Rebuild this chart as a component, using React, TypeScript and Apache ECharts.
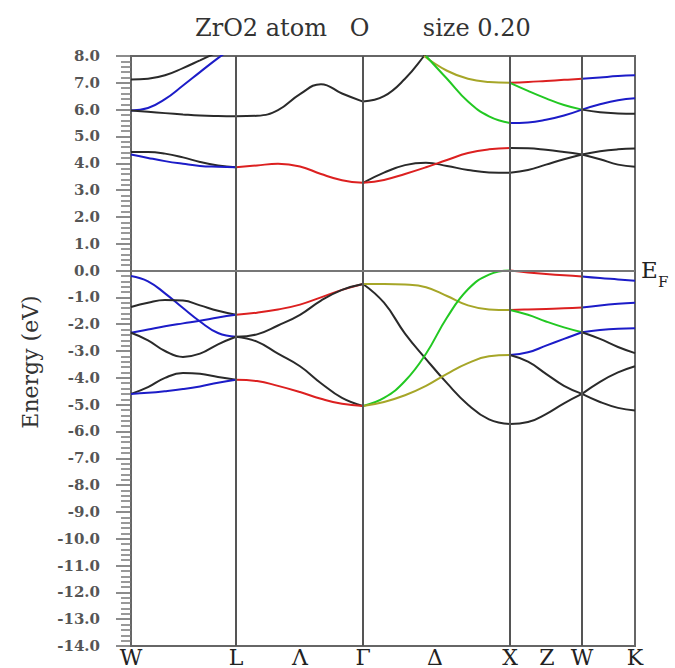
import { useEffect, useRef } from 'react';
import * as echarts from 'echarts';

// k-path coordinates of the high-symmetry points
const kTickPos = [0, 1.05, 1.69, 2.32, 3.04, 3.79, 4.16, 4.51, 5.04];
const kTickNames = ['W', 'L', 'Λ', 'Γ', 'Δ', 'X', 'Z', 'W', 'K'];
const kLines = [1.05, 2.32, 3.79, 4.51];

// k sampling per segment
const kWL = [0, 0.17, 0.34, 0.52, 0.69, 0.87, 1.05];
const kLG = [1.05, 1.26, 1.47, 1.69, 1.9, 2.11, 2.32];
const kGX = [2.32, 2.53, 2.74, 2.95, 3.16, 3.37, 3.58, 3.79];
const kGXtop = [2.32, 2.53, 2.74, 2.93, 3.05];
const kGXol = [2.93, 3.16, 3.37, 3.58, 3.79];
const kGXgr = [2.95, 3.16, 3.37, 3.58, 3.79];
const kXW = [3.79, 3.97, 4.15, 4.33, 4.51];
const kWK = [4.51, 4.69, 4.87, 5.04];

// W - L
const wlA = [7.12, 7.15, 7.28, 7.55, 7.84, 8.15, 8.45];
const wlB = [5.97, 6.06, 6.39, 6.9, 7.4, 7.92, 8.4];
const wlC = [5.97, 5.92, 5.87, 5.82, 5.78, 5.76, 5.75];
const wlD = [4.42, 4.42, 4.36, 4.22, 4.05, 3.92, 3.85];
const wlE = [4.33, 4.2, 4.08, 3.98, 3.9, 3.87, 3.85];
const wlF = [-0.2, -0.4, -0.85, -1.4, -1.9, -2.33, -2.47];
const wlG = [-1.36, -1.2, -1.1, -1.12, -1.3, -1.5, -1.65];
const wlH = [-2.32, -2.2, -2.08, -1.97, -1.87, -1.75, -1.65];
const wlI = [-2.32, -2.6, -3.0, -3.22, -3.1, -2.75, -2.47];
const wlJ = [-4.6, -4.35, -4.0, -3.82, -3.85, -3.97, -4.07];
const wlK = [-4.6, -4.56, -4.5, -4.42, -4.32, -4.18, -4.07];

// L - Gamma
const lgC = [5.75, 5.77, 5.98, 6.58, 6.95, 6.6, 6.3];
const lgR1 = [3.85, 3.92, 3.98, 3.88, 3.6, 3.37, 3.27];
const lgR2 = [-1.65, -1.57, -1.45, -1.27, -1.0, -0.72, -0.5];
const lgK1 = [-2.47, -2.38, -2.05, -1.65, -1.12, -0.72, -0.5];
const lgK2 = [-2.47, -2.65, -3.1, -3.57, -4.2, -4.75, -5.05];
const lgR3 = [-4.07, -4.12, -4.3, -4.53, -4.78, -4.97, -5.05];

// Gamma - X
const gxTop = [6.3, 6.5, 7.15, 8.0, 8.6];
const gxOl1 = [8.0, 7.45, 7.15, 7.03, 7.0];
const gxGr1 = [8.0, 7.15, 6.3, 5.75, 5.5];
const gxR = [3.27, 3.38, 3.6, 3.85, 4.12, 4.38, 4.52, 4.57];
const gxK1 = [3.27, 3.65, 3.93, 4.02, 3.9, 3.75, 3.66, 3.65];
const gxOl2 = [-0.5, -0.5, -0.52, -0.62, -0.95, -1.3, -1.45, -1.47];
const gxK2 = [-0.5, -1.2, -2.35, -3.3, -4.2, -5.0, -5.55, -5.72];
const gxGr2 = [-5.05, -4.75, -4.12, -3.1, -1.75, -0.7, -0.15, 0.0];
const gxOl3 = [-5.05, -4.9, -4.65, -4.3, -3.85, -3.45, -3.2, -3.15];

// X - W
const xwR1 = [7.0, 7.03, 7.07, 7.11, 7.15];
const xwGr1 = [7.0, 6.7, 6.42, 6.17, 6.0];
const xwB1 = [5.5, 5.52, 5.62, 5.78, 6.0];
const xwK1 = [4.57, 4.56, 4.5, 4.42, 4.33];
const xwK2 = [3.65, 3.75, 3.95, 4.15, 4.33];
const xwR2 = [0, -0.07, -0.13, -0.18, -0.22];
const xwR3 = [-1.47, -1.45, -1.43, -1.41, -1.38];
const xwGr2 = [-1.47, -1.65, -1.9, -2.12, -2.3];
const xwB2 = [-3.15, -3.05, -2.8, -2.55, -2.3];
const xwK3 = [-3.15, -3.4, -3.85, -4.3, -4.6];
const xwK4 = [-5.72, -5.65, -5.35, -4.95, -4.6];

// W - K
const wkB1 = [7.15, 7.2, 7.25, 7.28];
const wkB2 = [6.0, 6.2, 6.35, 6.42];
const wkK1 = [6.0, 5.9, 5.86, 5.85];
const wkK2 = [4.33, 4.45, 4.52, 4.55];
const wkK3 = [4.33, 4.15, 3.95, 3.87];
const wkB3 = [-0.22, -0.28, -0.33, -0.38];
const wkB4 = [-1.38, -1.3, -1.24, -1.2];
const wkB5 = [-2.3, -2.22, -2.17, -2.15];
const wkK4 = [-2.3, -2.55, -2.85, -3.08];
const wkK5 = [-4.6, -4.9, -5.12, -5.22];
const wkK6 = [-4.6, -4.15, -3.8, -3.57];

const BK = '#2a2a2a';
const BL = '#1c1cc8';
const RD = '#dc2020';
const GR = '#22c822';
const OL = '#a6a628';

const bands: [number[], number[], string][] = [
  [kWL, wlA, BK], [kWL, wlB, BL], [kWL, wlC, BK], [kWL, wlD, BK], [kWL, wlE, BL],
  [kWL, wlF, BL], [kWL, wlG, BK], [kWL, wlH, BL], [kWL, wlI, BK], [kWL, wlJ, BK], [kWL, wlK, BL],
  [kLG, lgC, BK], [kLG, lgR1, RD], [kLG, lgR2, RD], [kLG, lgK1, BK], [kLG, lgK2, BK], [kLG, lgR3, RD],
  [kGXtop, gxTop, BK], [kGXol, gxOl1, OL], [kGXgr, gxGr1, GR], [kGX, gxK1, BK], [kGX, gxR, RD],
  [kGX, gxK2, BK], [kGX, gxOl2, OL], [kGX, gxGr2, GR], [kGX, gxOl3, OL],
  [kXW, xwR1, RD], [kXW, xwGr1, GR], [kXW, xwB1, BL], [kXW, xwK1, BK], [kXW, xwK2, BK],
  [kXW, xwR2, RD], [kXW, xwR3, RD], [kXW, xwGr2, GR], [kXW, xwB2, BL], [kXW, xwK3, BK], [kXW, xwK4, BK],
  [kWK, wkB1, BL], [kWK, wkB2, BL], [kWK, wkK1, BK], [kWK, wkK2, BK], [kWK, wkK3, BK],
  [kWK, wkB3, BL], [kWK, wkB4, BL], [kWK, wkB5, BL], [kWK, wkK4, BK], [kWK, wkK5, BK], [kWK, wkK6, BK],
];

export default function App() {
  const ref = useRef<HTMLDivElement>(null);
  useEffect(() => {
    if (!ref.current) return;
    const chart = echarts.init(ref.current, undefined, { renderer: 'svg' });
    const bandSeries = bands.map(([k, e, c]) => ({
      type: 'line',
      data: k.map((x, i) => [x, e[i]]),
      smooth: 0.45,
      symbol: 'none',
      clip: true,
      silent: true,
      z: 3,
      lineStyle: { color: c, width: 2 },
    }));
    chart.setOption({
      animation: false,
      backgroundColor: '#ffffff',
      grid: {
        left: 131, top: 56, width: 504, height: 592,
        show: true, borderColor: '#666', borderWidth: 2, backgroundColor: 'transparent',
      },
      xAxis: {
        type: 'value', min: 0, max: 5.04,
        axisLine: { show: true, lineStyle: { color: '#666', width: 2 } },
        axisTick: { show: false },
        splitLine: { show: false },
        axisLabel: {
          customValues: kTickPos,
          formatter: (v: number) => {
            const i = kTickPos.indexOf(v);
            return i >= 0 ? kTickNames[i] : '';
          },
          margin: 0,
          verticalAlign: 'top',
          fontFamily: 'DejaVu Serif',
          fontSize: 22,
          color: '#222',
        },
      },
      yAxis: {
        type: 'value', min: -14, max: 8, interval: 1,
        axisLine: { show: true, lineStyle: { color: '#666', width: 2 } },
        axisTick: { show: true, inside: false, length: 15, lineStyle: { color: '#666', width: 1.5 } },
        minorTick: { show: true, splitNumber: 5, length: 10, lineStyle: { color: '#777', width: 1.5 } },
        splitLine: { show: false },
        axisLabel: {
          formatter: (v: number) => v.toFixed(1),
          margin: 31,
          fontFamily: 'DejaVu Serif',
          fontWeight: 'bold',
          fontSize: 15,
          color: '#555',
        },
      },
      graphic: [
        {
          type: 'text', x: 195, y: 28,
          style: {
            text: 'ZrO2 atom\u00a0\u00a0\u00a0O\u00a0\u00a0\u00a0\u00a0\u00a0\u00a0\u00a0size 0.20',
            textAlign: 'left', textVerticalAlign: 'middle',
            fontFamily: 'DejaVu Serif', fontSize: 24, fill: '#333',
          },
        },
        {
          type: 'text', x: 30, y: 362, rotation: Math.PI / 2,
          style: {
            text: 'Energy (eV)',
            textAlign: 'center', textVerticalAlign: 'middle',
            fontFamily: 'DejaVu Serif', fontSize: 22, fill: '#333',
          },
        },
        {
          type: 'text', x: 641, y: 270,
          style: {
            text: 'E', textAlign: 'left', textVerticalAlign: 'middle',
            fontFamily: 'DejaVu Serif', fontSize: 23, fill: '#222',
          },
        },
        {
          type: 'text', x: 658, y: 282,
          style: {
            text: 'F', textAlign: 'left', textVerticalAlign: 'middle',
            fontFamily: 'DejaVu Serif', fontSize: 15, fill: '#222',
          },
        },
      ],
      series: [
        {
          type: 'line', data: [], z: 2, silent: true,
          markLine: {
            silent: true, symbol: 'none', animation: false,
            label: { show: false },
            lineStyle: { color: '#555', width: 2, type: 'solid' },
            data: [
              ...kLines.map((k) => ({ xAxis: k })),
              { yAxis: 0, lineStyle: { color: '#777', width: 2, type: 'solid' } },
            ],
          },
        },
        ...bandSeries,
      ],
    });
    return () => chart.dispose();
  }, []);
  return <div ref={ref} style={{ position: 'fixed', left: 0, top: 0, width: 675, height: 668 }} />;
}
